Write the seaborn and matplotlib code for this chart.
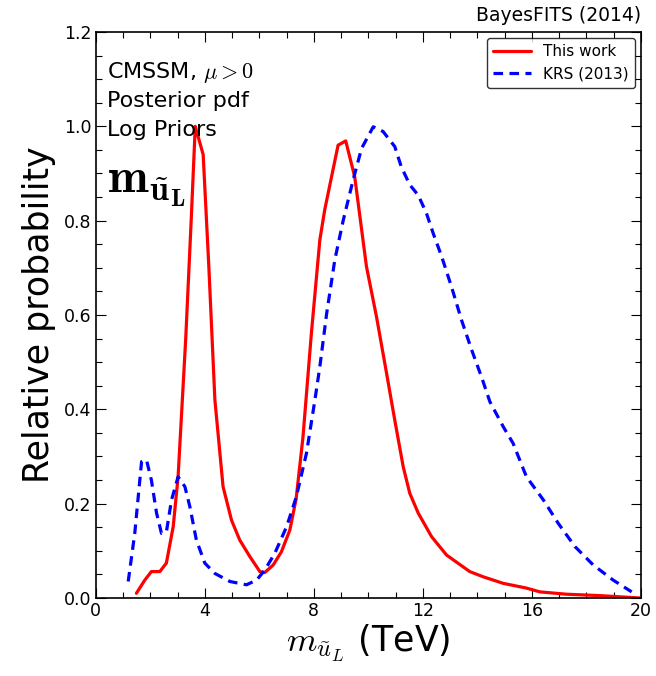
import numpy as np
import pandas as pd
import seaborn as sns
import matplotlib
matplotlib.use("Agg")
import matplotlib.pyplot as plt

# posterior pdf, this work (red)
this_x = [1.49, 1.8, 2.04, 2.35, 2.59, 2.84, 3.02, 3.3, 3.5, 3.65, 3.94, 4.15, 4.37,
          4.67, 4.98, 5.28, 5.65, 6.02, 6.2, 6.51, 6.81, 7.12, 7.35, 7.6, 7.91,
          8.22, 8.4, 8.65, 8.89, 9.17, 9.5, 9.93, 10.3, 10.67, 10.97, 11.28,
          11.52, 11.83, 12.32, 12.87, 13.72, 14.21, 14.95, 15.8, 16.29, 17.27,
          18.5, 19.96]
this_y = [0.01, 0.038, 0.056, 0.056, 0.074, 0.151, 0.257, 0.55, 0.8, 1.0, 0.94, 0.7, 0.42,
          0.236, 0.165, 0.123, 0.088, 0.056, 0.054, 0.07, 0.098, 0.144, 0.21, 0.34, 0.561,
          0.759, 0.823, 0.893, 0.96, 0.969, 0.893, 0.703, 0.596, 0.476, 0.377, 0.278,
          0.222, 0.18, 0.13, 0.091, 0.056, 0.045, 0.031, 0.021, 0.013, 0.008,
          0.005, 0.0]

# KRS (2013) (blue dashed)
krs_x = [1.19, 1.43, 1.68, 1.86, 2.04, 2.23, 2.41, 2.59, 2.78, 3.02, 3.27, 3.45, 3.69,
         4.0, 4.37, 4.92, 5.53, 5.9, 6.2, 6.57, 7.0, 7.36, 7.73, 8.04, 8.22, 8.47,
         8.77, 9.08, 9.44, 9.75, 10.18, 10.54, 10.97, 11.21, 11.52, 11.83, 12.13,
         12.38, 12.69, 13.05, 13.42, 13.79, 14.15, 14.46, 14.95, 15.31, 15.8, 16.42,
         16.97, 17.58, 18.25, 18.98, 19.66]
krs_y = [0.035, 0.137, 0.289, 0.293, 0.25, 0.18, 0.137, 0.14, 0.208, 0.257, 0.236, 0.194,
         0.123, 0.074, 0.052, 0.035, 0.028, 0.038, 0.059, 0.095, 0.151, 0.215, 0.307,
         0.42, 0.49, 0.603, 0.717, 0.801, 0.886, 0.953, 0.999, 0.989, 0.957, 0.914,
         0.876, 0.854, 0.816, 0.773, 0.724, 0.66, 0.589, 0.526, 0.469, 0.416, 0.363,
         0.328, 0.257, 0.208, 0.158, 0.109, 0.07, 0.038, 0.013]

sns.set_style("ticks")
plt.rcParams["font.family"] = ["DejaVu Sans"]
plt.rcParams["mathtext.fontset"] = "cm"
plt.rcParams["xtick.direction"] = "in"
plt.rcParams["ytick.direction"] = "in"
plt.rcParams["text.color"] = "black"
plt.rcParams["axes.labelcolor"] = "black"

df = pd.concat([
    pd.DataFrame({"x": this_x, "y": this_y, "src": "This work"}),
    pd.DataFrame({"x": krs_x, "y": krs_y, "src": "KRS (2013)"}),
])

fig = plt.figure(figsize=(6.56, 6.76), dpi=100)
ax = fig.add_axes([0.146, 0.1154, 0.831, 0.8373])

sns.lineplot(data=df, x="x", y="y", hue="src", style="src", sort=False,
             palette={"This work": "red", "KRS (2013)": "blue"},
             dashes={"This work": "", "KRS (2013)": (3, 2)},
             linewidth=2.3, ax=ax)

ax.set_xlim(0, 20)
ax.set_ylim(0, 1.2)
ax.set_xticks([0, 4, 8, 12, 16, 20])
ax.set_xticks(np.arange(0, 21, 1), minor=True)
ax.set_yticks(np.arange(0, 1.21, 0.2))
ax.set_yticks(np.arange(0, 1.21, 0.05), minor=True)
ax.set_yticklabels(["%.1f" % v for v in np.arange(0, 1.21, 0.2)])
ax.tick_params(which="both", top=True, right=True, labelsize=12.5, colors="black")
ax.tick_params(which="major", length=7, width=0.8, pad=3)
ax.tick_params(which="minor", length=4, width=0.8)
for s in ax.spines.values():
    s.set_color("black")
    s.set_linewidth(1.2)

ax.set_xlabel(r"$m_{\tilde{u}_L}$ (TeV)", fontsize=25, labelpad=2, color="black")
ax.set_ylabel("Relative probability", fontsize=25, labelpad=6, color="black")

ax.text(0.02, 0.919, r"CMSSM, $\mu>0$", transform=ax.transAxes, fontsize=16, va="baseline")
ax.text(0.02, 0.867, "Posterior pdf", transform=ax.transAxes, fontsize=16, va="baseline")
ax.text(0.02, 0.816, "Log Priors", transform=ax.transAxes, fontsize=16, va="baseline")
ax.text(0.02, 0.717, r"$\mathbf{m_{\tilde{u}_L}}$", transform=ax.transAxes, fontsize=35,
        va="baseline")
ax.text(1.0, 1.012, "BayesFITS (2014)", transform=ax.transAxes, fontsize=13.5,
        ha="right", va="bottom")

leg = ax.legend(loc="upper right", fontsize=11, frameon=True, fancybox=True,
                handlelength=2.5, borderaxespad=0.4)
leg.get_frame().set_edgecolor("black")
leg.get_frame().set_linewidth(1.0)
for t in leg.get_texts():
    t.set_color("black")

fig.savefig("out.png", dpi=100)
